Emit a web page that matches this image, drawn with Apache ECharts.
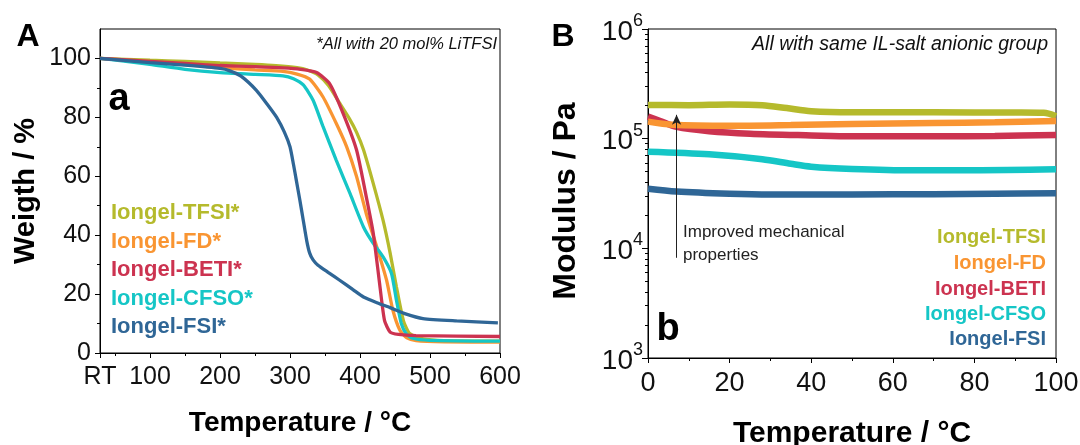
<!DOCTYPE html>
<html><head><meta charset="utf-8">
<script src="https://cdn.jsdelivr.net/npm/echarts@6/dist/echarts.min.js"></script>
<style>html,body{margin:0;padding:0;background:#fff}#c{width:1080px;height:445px}</style>
</head><body><div id="c"></div>
<script>
// ---------- data ----------
const RT = 28.6; // room temperature start of TGA axis
const namesA = ['Iongel-TFSI*', 'Iongel-FD*', 'Iongel-BETI*', 'Iongel-CFSO*', 'Iongel-FSI*'];
const namesB = ['Iongel-TFSI', 'Iongel-FD', 'Iongel-BETI', 'Iongel-CFSO', 'Iongel-FSI'];
const colors = ['#b5ba2c', '#f99532', '#cc3350', '#15c6c6', '#2f6696'];

const xTicksA = [RT, 100, 200, 300, 400, 500, 600];
const xMinorA = [50, 150, 250, 350, 450, 550];
const yTicksA = [0, 20, 40, 60, 80, 100];
const yMinorA = [10, 30, 50, 70, 90];

// TGA: [temperature °C, weight %]
const tgaTFSI = [[RT,100],[100,99.4],[150,99],[200,98.5],[250,98],[280,97.6],[310,96.9],[325,96.1],[340,94.4],[355,90.8],[371,84.8],[385,79.5],[395,75],[405,69],[419,57.5],[433,45],[443,34],[452,22.5],[462,11],[471,6.6],[490,4.8],[520,4.2],[600,4.0]];
const tgaFD = [[RT,100],[100,98.9],[150,97.9],[200,96.9],[250,96.1],[290,95.6],[310,94.7],[328,93],[347,87],[366,78],[381,70],[395,60],[409,47.3],[424,36],[438,24.7],[447,14.5],[457,7.7],[467,5.1],[480,4.2],[520,3.8],[600,3.7]];
const tgaBETI = [[RT,100],[100,99],[150,98.3],[200,97.6],[250,97.2],[290,96.8],[315,96.3],[338,95.2],[357,91.3],[376,81.3],[395,69],[409,53],[419,40.6],[428,23.6],[435,11.1],[443,7.1],[455,6.3],[480,5.9],[600,5.6]];
const tgaCFSO = [[RT,100],[60,99.2],[100,98],[150,96.3],[200,95.2],[250,94.6],[290,94.1],[305,93.1],[319,91],[333,85.8],[347,77],[366,65.5],[386,54],[405,42.8],[419,37.2],[433,32.6],[445,27],[452,18],[459,10],[466,6.5],[475,5],[500,4.3],[600,4.0]];
const tgaFSI = [[RT,100],[100,98.6],[150,97.7],[200,96.6],[214,95.8],[230,94],[252,89.2],[268,84.3],[281,80],[292,75],[300,70],[305,64],[309,58.7],[314,52],[319,45],[324,38],[328,34],[333,31.6],[340,29.8],[355,27.3],[371,24.7],[390,21.5],[405,19],[425,17],[443,15.4],[465,13.3],[490,11.7],[538,10.9],[597,10.2]];

// Modulus: [temperature °C, modulus Pa]
const modTFSI = [[0,2.03e5],[10,2.02e5],[20,2.05e5],[28,2.02e5],[34,1.9e5],[40,1.78e5],[50,1.74e5],[70,1.74e5],[90,1.73e5],[97,1.72e5],[100,1.6e5]];
const modFD = [[0,1.43e5],[6,1.34e5],[20,1.31e5],[35,1.33e5],[50,1.36e5],[70,1.39e5],[85,1.41e5],[100,1.45e5]];
const modBETI = [[0,1.59e5],[3,1.45e5],[7,1.28e5],[15,1.17e5],[25,1.11e5],[40,1.07e5],[50,1.05e5],[70,1.05e5],[85,1.06e5],[100,1.08e5]];
const modCFSO = [[0,7.6e4],[15,7.2e4],[28,6.5e4],[35,5.9e4],[40,5.55e4],[50,5.3e4],[65,5.15e4],[80,5.15e4],[100,5.25e4]];
const modFSI = [[0,3.5e4],[7,3.3e4],[20,3.15e4],[30,3.1e4],[50,3.1e4],[70,3.12e4],[85,3.15e4],[100,3.18e4]];
const arrowB = [[7, 8200], [7, 1.65e5]];
const yMinorBlog = [];
[3,4,5].forEach(e => { for (let k = 2; k <= 9; k++) yMinorBlog.push(Math.log10(k) + e); });

const tga = [tgaTFSI, tgaFD, tgaBETI, tgaCFSO, tgaFSI];
const mod = [modTFSI, modFD, modBETI, modCFSO, modFSI];

// ---------- chart ----------
const FONT = '"Liberation Sans", Arial, Helvetica, sans-serif';
const chart = echarts.init(document.getElementById('c'), null, {renderer: 'canvas'});
const axisLine = {show: true, lineStyle: {color: '#000', width: 1}};
const txt = '#111';

const series = [];
const orderA = [0, 1, 3, 2, 4];
orderA.forEach(i => series.push({
  type: 'line', name: namesA[i], xAxisIndex: 0, yAxisIndex: 0, data: tga[i],
  showSymbol: false, smooth: 0.2,
  lineStyle: {color: colors[i], width: 3.3}, itemStyle: {color: colors[i]}, silent: true
}));
const orderB = [0, 2, 1, 3, 4];
orderB.forEach(i => series.push({
  type: 'line', name: namesB[i], xAxisIndex: 2, yAxisIndex: 2, data: mod[i],
  showSymbol: false, smooth: 0.3,
  lineStyle: {color: colors[i], width: 6.5}, itemStyle: {color: colors[i]}, silent: true
}));
series.push({
  type: 'line', name: 'arrow', xAxisIndex: 2, yAxisIndex: 2, data: arrowB, showSymbol: false,
  symbol: 'none', lineStyle: {width: 0, opacity: 0}, silent: true, z: 1,
  markLine: {
    silent: true, symbol: ['none', 'arrow'], symbolSize: [7, 10],
    lineStyle: {color: '#222', width: 1, type: 'solid'}, label: {show: false},
    data: [[{coord: arrowB[0]}, {coord: arrowB[1]}]]
  }
});

function gText(text, x, y, size, color, opts) {
  opts = opts || {};
  return {type: 'text', x: x, y: y, silent: true, z: 100, rotation: opts.rotation || 0,
    style: {text: text, fill: color, font: (opts.style || '') + ' ' + (opts.weight || 'normal') + ' ' + size + 'px ' + FONT,
      align: opts.align || 'left', verticalAlign: 'middle', textAlign: opts.align || 'left', textVerticalAlign: 'middle'}};
}
const graphics = [
  gText('A', 28, 37, 32, '#000', {weight: 'bold', align: 'center'}),
  gText('B', 563, 37, 32, '#000', {weight: 'bold', align: 'center'}),
  gText('a', 119, 100, 38, '#000', {weight: 'bold', align: 'center'}),
  gText('b', 668, 330, 38, '#000', {weight: 'bold', align: 'center'}),
  gText('*All with 20 mol% LiTFSI', 497, 44, 16.5, '#111', {style: 'italic', align: 'right'}),
  gText('All with same IL-salt anionic group', 1048, 45, 19.5, '#111', {style: 'italic', align: 'right'}),
  gText('Improved mechanical', 683, 232, 17, '#222'),
  gText('properties', 683, 255, 17, '#222'),
  gText('Modulus / Pa', 566, 201, 32, '#000', {weight: 'bold', align: 'center', rotation: Math.PI / 2})
];
const legAy = [213, 241.5, 270, 298.5, 327];
namesA.forEach((n, i) => graphics.push(gText(n, 111, legAy[i], 22, colors[i], {weight: 'bold'})));
const legBy = [237, 263, 289, 314, 339];
namesB.forEach((n, i) => graphics.push(gText(n, 1046, legBy[i], 20, colors[i], {weight: 'bold', align: 'right'})));

const option = {
  backgroundColor: '#fff',
  animation: false,
  textStyle: {fontFamily: FONT},
  grid: [
    {left: 100, top: 29, width: 400, height: 324, show: true, borderColor: '#000', borderWidth: 1, outerBoundsMode: 'none', containLabel: false},
    {left: 648, top: 29, width: 408, height: 329, show: true, borderColor: '#000', borderWidth: 1, outerBoundsMode: 'none', containLabel: false}
  ],
  xAxis: [
    {type: 'value', gridIndex: 0, min: RT, max: 600,
     axisLine: axisLine, splitLine: {show: false},
     axisTick: {show: true, length: 5, customValues: xTicksA, lineStyle: {color: '#000'}},
     axisLabel: {show: true, customValues: xTicksA, fontSize: 25, color: txt, margin: 12,
       formatter: v => (v < 50 ? 'RT' : String(Math.round(v)))},
     name: 'Temperature / °C', nameLocation: 'middle', nameGap: 56,
     nameTextStyle: {fontSize: 28, fontWeight: 'bold', color: '#000'}},
    {type: 'value', gridIndex: 0, min: RT, max: 600, axisLine: {show: false}, splitLine: {show: false},
     axisTick: {show: true, length: 3, customValues: xMinorA, lineStyle: {color: '#000'}},
     axisLabel: {show: false}, position: 'bottom'},
    {type: 'value', gridIndex: 1, min: 0, max: 100, interval: 20,
     axisLine: axisLine, splitLine: {show: false},
     axisTick: {show: true, length: 5, lineStyle: {color: '#000'}},
     minorTick: {show: true, splitNumber: 2, length: 3, lineStyle: {color: '#000'}},
     axisLabel: {fontSize: 27, color: txt, margin: 12},
     name: 'Temperature / °C', nameLocation: 'middle', nameGap: 61,
     nameTextStyle: {fontSize: 30, fontWeight: 'bold', color: '#000'}}
  ],
  yAxis: [
    {type: 'value', gridIndex: 0, min: 0, max: 110,
     axisLine: axisLine, splitLine: {show: false},
     axisTick: {show: true, length: 5, customValues: yTicksA, lineStyle: {color: '#000'}},
     axisLabel: {show: true, customValues: yTicksA, fontSize: 25, color: txt, margin: 9},
     name: 'Weigth / %', nameLocation: 'middle', nameGap: 60, nameRotate: 90,
     nameTextStyle: {fontSize: 29, fontWeight: 'bold', color: '#000'}},
    {type: 'value', gridIndex: 0, min: 0, max: 110, axisLine: {show: false}, splitLine: {show: false},
     axisTick: {show: true, length: 3, customValues: yMinorA, lineStyle: {color: '#000'}},
     axisLabel: {show: false}, position: 'left'},
    {type: 'log', logBase: 10, gridIndex: 1, min: 1e3, max: 1e6,
     axisLine: axisLine, splitLine: {show: false},
     axisTick: {show: true, length: 6, lineStyle: {color: '#000'}},
     axisLabel: {margin: 5, color: txt,
       formatter: v => '{b|10}{s|' + Math.round(Math.log10(v)) + '}',
       rich: {b: {fontSize: 28, color: txt, lineHeight: 34, verticalAlign: 'bottom'},
              s: {fontSize: 18, color: txt, lineHeight: 34, verticalAlign: 'top'}}}},
    {type: 'value', gridIndex: 1, min: 3, max: 6, axisLine: {show: false}, splitLine: {show: false},
     axisTick: {show: true, length: 3, customValues: yMinorBlog, lineStyle: {color: '#000'}},
     axisLabel: {show: false}, position: 'left'}
  ],
  series: series,
  graphic: graphics
};
chart.setOption(option);
</script>
</body></html>
